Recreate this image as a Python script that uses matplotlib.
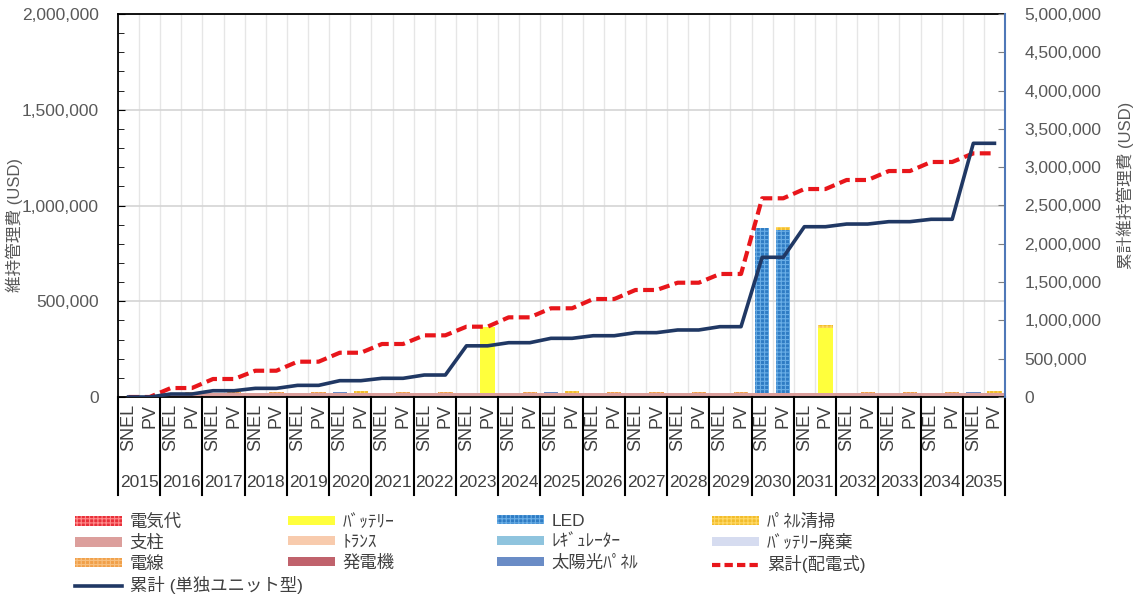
import numpy as np
import matplotlib
matplotlib.use("Agg")
import matplotlib.pyplot as plt
import matplotlib.transforms as mtransforms
from matplotlib.patches import Patch
from matplotlib.lines import Line2D
from matplotlib.ticker import FuncFormatter, MultipleLocator

plt.rcParams['font.family'] = ['Liberation Sans', 'Noto Sans CJK JP']
plt.rcParams['hatch.linewidth'] = 0.8

# ---- data -------------------------------------------------------------
years = list(range(2015, 2036))
sub_labels = ["SNEL", "PV"]
categories = [s for _ in years for s in sub_labels]

# annual maintenance cost by item (USD), order: 2015 SNEL, 2015 PV, 2016 SNEL, ...
pillar = [0, 0, 20000, 20000, 20000, 20000, 20000, 20000, 20000, 20000, 20000, 20000,
          20000, 20000, 20000, 20000, 20000, 20000, 20000, 20000, 20000, 20000,
          20000, 20000, 20000, 20000, 20000, 20000, 20000, 20000, 20000, 20000,
          20000, 20000, 20000, 20000, 20000, 20000, 20000, 20000, 20000, 20000]
wire = [0, 0, 0, 5000, 0, 5000, 0, 5000, 0, 5000, 0, 0,
        0, 5000, 0, 5000, 0, 0, 0, 5000, 0, 0,
        0, 5000, 0, 5000, 0, 5000, 0, 5000, 0, 0,
        0, 0, 0, 5000, 0, 5000, 0, 5000, 0, 0]
solar_panel = [0, 0, 0, 0, 0, 0, 0, 0, 0, 0, 5000, 0,
               0, 0, 0, 0, 0, 0, 0, 0, 5000, 0,
               0, 0, 0, 0, 0, 0, 0, 0, 0, 0,
               0, 0, 0, 0, 0, 0, 0, 0, 5000, 0]
generator = [0] * 42
transformer = [0] * 42
regulator = [0] * 42
battery_disposal = [0] * 42
electricity = [0] * 42
battery = [0, 0, 0, 0, 0, 0, 0, 0, 0, 0, 0, 0,
           0, 0, 0, 0, 0, 347000, 0, 0, 0, 0,
           0, 0, 0, 0, 0, 0, 0, 0, 0, 0,
           0, 339000, 0, 0, 0, 0, 0, 0, 0, 0]
led = [0, 0, 0, 0, 0, 0, 0, 0, 0, 0, 0, 0,
       0, 0, 0, 0, 0, 0, 0, 0, 0, 0,
       0, 0, 0, 0, 0, 0, 0, 0, 861000, 852000,
       0, 0, 0, 0, 0, 0, 0, 0, 0, 0]
panel_cleaning = [0, 0, 0, 0, 0, 0, 0, 0, 0, 0, 0, 12000,
                  0, 0, 0, 0, 0, 0, 0, 0, 0, 12000,
                  0, 0, 0, 0, 0, 0, 0, 0, 0, 15000,
                  0, 17000, 0, 0, 0, 0, 0, 0, 0, 12000]

# cumulative maintenance cost (USD, right axis)
cum_grid = [0, 0, 117000, 117000, 235000, 235000, 343000, 343000, 461000, 461000,
            578000, 578000, 692000, 692000, 805000, 805000, 918000, 918000,
            1040000, 1040000, 1158000, 1158000, 1279000, 1279000, 1397000, 1397000,
            1492000, 1492000, 1606000, 1606000, 2594000, 2594000, 2715000, 2715000,
            2833000, 2833000, 2950000, 2950000, 3068000, 3068000, 3181000, 3181000]
cum_standalone = [0, 0, 39000, 39000, 82000, 82000, 113000, 113000, 152000, 152000,
                  213000, 213000, 244000, 244000, 287000, 287000, 668000, 668000,
                  709000, 709000, 766000, 766000, 800000, 800000, 840000, 840000,
                  875000, 875000, 918000, 918000, 1824000, 1824000, 2223000, 2223000,
                  2258000, 2258000, 2289000, 2289000, 2320000, 2320000, 3312000, 3312000]

# ---- styles -----------------------------------------------------------
TXT = '#595959'
styles = {
    '電気代':      dict(color='#e8303a', hatch='++++', edgecolor='#ff8c8c'),
    'ﾊﾞｯﾃﾘｰ':      dict(color='#ffff3c', hatch=None, edgecolor='#ffff3c'),
    'LED':         dict(color='#2f7cc4', hatch='++++', edgecolor='#6aaee6'),
    'ﾊﾟﾈﾙ清掃':    dict(color='#f2bd2c', hatch='++++', edgecolor='#ffd966'),
    '支柱':        dict(color='#dc9f9c', hatch=None, edgecolor='#dc9f9c'),
    'ﾄﾗﾝｽ':        dict(color='#f8cbad', hatch=None, edgecolor='#f8cbad'),
    'ﾚｷﾞｭﾚｰﾀｰ':    dict(color='#8fc4de', hatch=None, edgecolor='#8fc4de'),
    'ﾊﾞｯﾃﾘｰ廃棄':  dict(color='#d6dcf0', hatch=None, edgecolor='#d6dcf0'),
    '電線':        dict(color='#f0a04a', hatch='++++', edgecolor='#f8c080'),
    '発電機':      dict(color='#c0626c', hatch=None, edgecolor='#c0626c'),
    '太陽光ﾊﾟﾈﾙ':  dict(color='#6a8cc6', hatch=None, edgecolor='#6a8cc6'),
}
GRID_COLOR = '#e8161b'
STAND_COLOR = '#203864'

# ---- figure -----------------------------------------------------------
W, H = 1139, 600
fig = plt.figure(figsize=(W / 100, H / 100), dpi=100)
ax = fig.add_axes([118 / W, 1 - 397 / H, (1005 - 118) / W, (397 - 14) / H])

x = np.arange(len(categories))

# stacked bars
bottom = np.zeros(len(x))
ax.bar(x, pillar, width=1.0, bottom=bottom, linewidth=0, zorder=2, **styles['支柱'])
bottom += np.array(pillar)
stack = [
    ('電線', wire), ('太陽光ﾊﾟﾈﾙ', solar_panel), ('発電機', generator),
    ('ﾄﾗﾝｽ', transformer), ('ﾚｷﾞｭﾚｰﾀｰ', regulator), ('ﾊﾞｯﾃﾘｰ廃棄', battery_disposal),
    ('電気代', electricity), ('ﾊﾞｯﾃﾘｰ', battery), ('LED', led), ('ﾊﾟﾈﾙ清掃', panel_cleaning),
]
for name, vals in stack:
    ax.bar(x, vals, width=0.68, bottom=bottom, linewidth=0, zorder=2, **styles[name])
    bottom += np.array(vals)

ax.set_xlim(-0.5, len(x) - 0.5)
ax.set_ylim(0, 2000000)
ax.yaxis.set_major_locator(MultipleLocator(500000))
ax.yaxis.set_minor_locator(MultipleLocator(100000))
ax.yaxis.set_major_formatter(FuncFormatter(lambda v, p: f'{v:,.0f}'))
ax.tick_params(axis='y', which='major', direction='in', length=5, pad=14,
               labelsize=12.5, labelcolor=TXT, color='black')
ax.tick_params(axis='y', which='minor', direction='in', length=4, color='black')
ax.grid(axis='y', which='major', color='#d4d4d4', lw=1.2, zorder=0)

ax.set_xticks(x)
ax.set_xticklabels(categories, rotation=90, va='top', ha='center')
ax.set_xticks(np.arange(-0.5, len(x), 1.0), minor=True)
ax.tick_params(axis='x', which='both', length=0, pad=5, labelsize=13, labelcolor='#404040')
ax.grid(axis='x', which='minor', color='#e6e6e6', lw=1.0, zorder=0)
ax.set_axisbelow(True)

for side in ('left', 'top', 'bottom'):
    ax.spines[side].set_color('black')
    ax.spines[side].set_linewidth(1.3)
ax.spines['right'].set_visible(False)

# year group labels and separators below the axis
blend = mtransforms.blended_transform_factory(ax.transData, ax.transAxes)
for k, yr in enumerate(years):
    ax.text(2 * k + 0.5, -0.2245, str(yr), transform=blend, ha='center', va='center',
            fontsize=12.5, color='#404040')
for k in range(len(years) + 1):
    ax.plot([2 * k - 0.5, 2 * k - 0.5], [0, -0.256], transform=blend, color='black',
            lw=1.5, clip_on=False, zorder=5)

# cumulative lines on the secondary axis
ax2 = ax.twinx()
ax2.plot(x, cum_grid, color=GRID_COLOR, lw=3.0, linestyle=(0, (2.6, 1.3)), zorder=3)
ax2.plot(x, cum_standalone, color=STAND_COLOR, lw=2.6, zorder=4)
ax2.set_ylim(0, 5000000)
ax2.yaxis.set_major_locator(MultipleLocator(500000))
ax2.yaxis.set_major_formatter(FuncFormatter(lambda v, p: f'{v:,.0f}'))
ax2.tick_params(axis='y', direction='in', length=5, pad=14, labelsize=12.5,
                labelcolor=TXT, color='#7f7f7f')
for side in ('left', 'top', 'bottom'):
    ax2.spines[side].set_visible(False)
ax2.spines['right'].set_color('#4f78b8')
ax2.spines['right'].set_linewidth(1.5)

fig.text(14 / W, 1 - 225 / H, '維持管理費 (USD)', rotation=90, ha='center', va='center',
         fontsize=12, color=TXT)
fig.text(1125 / W, 1 - 185 / H, '累計維持管理費 (USD)', rotation=90, ha='center', va='center',
         fontsize=12, color=TXT)

# legend, laid out in four columns
def patch(name):
    s = styles[name]
    return Patch(facecolor=s['color'], edgecolor=s['edgecolor'], hatch=s['hatch'], linewidth=0)

line_grid = Line2D([], [], color=GRID_COLOR, lw=3.0, linestyle=(0, (2.0, 1.0)))
line_stand = Line2D([], [], color=STAND_COLOR, lw=2.6)

columns = [
    (75, [patch('電気代'), patch('支柱'), patch('電線'), line_stand],
     ['電気代', '支柱', '電線', '累計 (単独ユニット型)']),
    (288, [patch('ﾊﾞｯﾃﾘｰ'), patch('ﾄﾗﾝｽ'), patch('発電機')],
     ['ﾊﾞｯﾃﾘｰ', 'ﾄﾗﾝｽ', '発電機']),
    (497, [patch('LED'), patch('ﾚｷﾞｭﾚｰﾀｰ'), patch('太陽光ﾊﾟﾈﾙ')],
     ['LED', 'ﾚｷﾞｭﾚｰﾀｰ', '太陽光ﾊﾟﾈﾙ']),
    (712, [patch('ﾊﾟﾈﾙ清掃'), patch('ﾊﾞｯﾃﾘｰ廃棄'), line_grid],
     ['ﾊﾟﾈﾙ清掃', 'ﾊﾞｯﾃﾘｰ廃棄', '累計(配電式)']),
]
for xpos, hs, ls in columns:
    fig.legend(hs, ls, loc='upper left', bbox_to_anchor=(xpos / W, 1 - 514 / H),
               frameon=False, borderpad=0, borderaxespad=0, handlelength=2.7,
               handleheight=0.45, handletextpad=0.45, labelspacing=0.27,
               fontsize=12.5, labelcolor='#404040')

fig.savefig('out.png', dpi=100)
